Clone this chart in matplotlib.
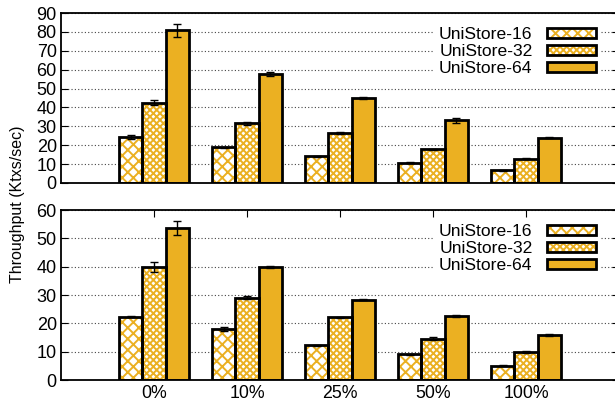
import numpy as np
import matplotlib.pyplot as plt
from matplotlib.patches import Patch
from matplotlib.legend_handler import HandlerTuple

plt.rcParams['font.family'] = ['Liberation Sans', 'DejaVu Sans']
plt.rcParams['hatch.linewidth'] = 1.4

workloads = ['0%', '10%', '25%', '50%', '100%']
series = ['UniStore-16', 'UniStore-32', 'UniStore-64']

# upper panel
top_vals = [
    [24.4, 18.8, 14.1, 10.8, 6.7],
    [42.6, 31.6, 26.5, 17.8, 12.9],
    [80.8, 57.6, 45.0, 33.3, 24.0],
]
top_err = [
    [1.0, 0.3, 0.2, 0.2, 0.2],
    [1.2, 0.8, 0.3, 0.3, 0.2],
    [3.6, 1.0, 0.7, 1.3, 0.3],
]

# lower panel
bot_vals = [
    [22.4, 17.9, 12.3, 9.1, 5.1],
    [39.9, 29.1, 22.1, 14.6, 9.9],
    [53.6, 39.8, 28.4, 22.6, 15.9],
]
bot_err = [
    [0.2, 0.7, 0.2, 0.2, 0.2],
    [1.9, 0.5, 0.3, 0.5, 0.2],
    [2.5, 0.3, 0.2, 0.2, 0.3],
]

gold = '#ebb022'
hatches = ['xxx', 'xxxxx', '']
width = 0.25


def draw_panel(ax, vals, errs, ymax, step):
    x = np.arange(len(workloads))
    for i in range(3):
        pos = x + (i - 1) * width
        if hatches[i]:
            ax.bar(pos, vals[i], width, color='white', edgecolor=gold,
                   hatch=hatches[i], linewidth=0, zorder=2)
        else:
            ax.bar(pos, vals[i], width, color=gold, linewidth=0, zorder=2)
        ax.bar(pos, vals[i], width, facecolor='none', edgecolor='black',
               linewidth=2.0, zorder=3)
        ax.errorbar(pos, vals[i], yerr=errs[i], fmt='none', ecolor='black',
                    elinewidth=1.0, capsize=3, capthick=1.0, zorder=4)
    ax.set_xlim(-1, 5)
    ax.set_ylim(0, ymax)
    ax.set_yticks(np.arange(0, ymax + 1, step))
    ax.yaxis.grid(True, linestyle=(0, (1, 2)), color='#444444', linewidth=0.8)
    ax.set_axisbelow(True)
    ax.set_xticks(x)
    ax.tick_params(axis='y', direction='in', length=5, labelsize=13, right=True, pad=3)
    ax.tick_params(axis='x', direction='in', length=5, labelsize=12.8, top=True)
    for s in ax.spines.values():
        s.set_linewidth(1.3)

    handles = []
    for i in range(3):
        if hatches[i]:
            fill = Patch(facecolor='white', edgecolor=gold, hatch=hatches[i], linewidth=0)
        else:
            fill = Patch(facecolor=gold, linewidth=0)
        edge = Patch(facecolor='none', edgecolor='black', linewidth=2.0)
        handles.append((fill, edge))
    leg = ax.legend(handles, series, loc='upper right', bbox_to_anchor=(0.983, 1.0),
                    markerfirst=False, fontsize=12.6, handlelength=2.8, handleheight=0.55,
                    labelspacing=0.12, handletextpad=0.8, borderpad=0.3,
                    frameon=True, fancybox=False, edgecolor='none', framealpha=1,
                    handler_map={tuple: HandlerTuple(ndivide=1, pad=0)})
    leg.set_zorder(5)
    return ax


fig = plt.figure(figsize=(6.15, 4.09), dpi=100)
# plot area runs a little past the right edge of the canvas
ax1 = fig.add_axes([61 / 615, 0.5526, 558 / 615, 0.4156])
ax2 = fig.add_axes([61 / 615, 0.0709, 558 / 615, 0.4156])

draw_panel(ax1, top_vals, top_err, 90, 10)
draw_panel(ax2, bot_vals, bot_err, 60, 10)
ax1.tick_params(axis='x', top=False, bottom=False, labelbottom=False)
ax2.set_xticklabels(workloads)

fig.text(0.028, 0.5, 'Throughput (Ktxs/sec)', rotation=90, va='center', ha='center',
         fontsize=11.5)

fig.savefig('out.png', dpi=100)
